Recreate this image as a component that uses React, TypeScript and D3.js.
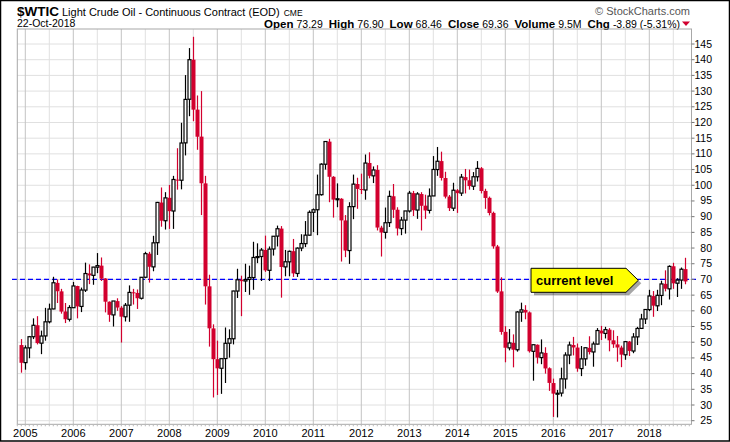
// @ts-nocheck
import React from "react";
import * as d3 from "d3";

// monthly candles, Dec 2004 .. Oct 2018
const firstYear = 2005;
const opens = [
  49.1,
  43.5, 48.2, 51.75, 55.4, 49.7, 52.0, 56.5, 60.6, 68.9, 66.2, 59.8, 57.3,
  61.0, 67.9, 61.4, 66.6, 71.9, 71.3, 73.9, 74.4, 70.3, 62.9, 58.7, 63.1,
  61.0, 58.1, 61.8, 65.9, 65.7, 64.0, 70.7, 78.2, 74.0, 81.7, 94.5, 88.7,
  96.0, 91.8, 101.8, 101.6, 113.5, 127.4, 140.0, 124.1, 115.5, 100.6, 67.8, 54.4,
  44.6, 41.7, 44.8, 49.7, 51.1, 66.3, 69.9, 69.5, 70.0, 70.6, 77.0, 77.3,
  79.4, 72.9, 79.7, 83.8, 86.2, 74.0, 75.6, 79.0, 71.9, 80.0, 81.4, 84.1,
  91.4, 92.2, 97.0, 106.7, 113.9, 102.7, 95.4, 95.7, 88.8, 79.2, 93.2, 100.4,
  98.8, 98.5, 107.1, 103.0, 104.9, 86.5, 85.0, 88.1, 96.5, 92.2, 86.2, 88.9,
  91.8, 97.5, 92.1, 97.2, 93.5, 92.0, 96.6, 105.0, 107.7, 102.3, 96.4, 92.7,
  98.4, 97.5, 102.6, 101.6, 99.7, 102.7, 105.4, 98.2, 96.0, 91.2, 80.5, 66.2,
  53.3, 48.2, 49.8, 47.6, 59.6, 60.3, 59.5, 47.1, 49.2, 45.1, 46.6, 41.7,
  37.0, 33.6, 33.8, 38.3, 45.9, 49.1, 48.3, 41.6, 44.7, 48.2, 46.9, 49.4,
  53.7, 52.8, 54.0, 50.6, 49.3, 48.3, 46.0, 50.2, 47.2, 51.7, 54.4, 57.4,
  60.4, 64.7, 61.6, 64.9, 68.6, 67.0, 74.2, 68.8, 69.8, 73.29,
];
const highs = [
  51.0,
  49.0, 52.0, 57.6, 58.3, 53.7, 60.95, 62.3, 70.85, 70.0, 67.0, 62.5, 61.8,
  69.2, 68.0, 67.4, 75.35, 74.8, 74.0, 78.4, 77.0, 70.4, 63.0, 62.5, 64.0,
  61.5, 62.5, 68.1, 67.0, 66.8, 70.7, 78.8, 78.8, 83.9, 94.7, 99.3, 97.8,
  100.1, 103.0, 111.8, 119.9, 135.1, 143.7, 147.3, 128.6, 130.0, 103.0, 71.5, 55.7,
  50.5, 43.2, 54.7, 54.1, 66.4, 73.4, 71.2, 75.0, 74.4, 82.0, 81.5, 80.0,
  83.95, 80.5, 83.8, 87.15, 87.0, 79.4, 79.2, 82.9, 80.2, 84.4, 88.6, 92.0,
  92.6, 103.4, 107.0, 114.0, 114.8, 102.9, 100.6, 95.9, 90.5, 94.6, 103.4, 102.4,
  103.7, 109.8, 110.5, 106.0, 106.4, 87.1, 92.9, 98.3, 100.4, 93.0, 89.9, 91.5,
  98.2, 98.2, 97.8, 97.8, 97.0, 99.0, 109.3, 112.2, 110.7, 104.3, 96.9, 100.8,
  98.8, 103.6, 105.2, 105.0, 104.2, 107.7, 105.8, 98.9, 96.4, 91.6, 81.0, 70.7,
  55.1, 54.2, 52.5, 59.9, 62.6, 61.8, 59.8, 49.3, 49.3, 50.9, 48.4, 42.0,
  38.4, 34.8, 41.9, 46.8, 50.2, 51.7, 49.6, 48.8, 48.3, 51.9, 50.2, 54.5,
  55.2, 54.9, 54.5, 53.8, 52.0, 48.9, 50.4, 50.4, 52.9, 54.9, 59.05, 60.5,
  66.7, 66.3, 66.7, 69.6, 72.9, 74.5, 75.3, 70.4, 73.8, 76.9,
];
const lows = [
  40.3,
  41.25, 44.9, 51.0, 49.3, 46.2, 50.5, 56.0, 60.5, 62.5, 59.1, 56.1, 56.6,
  61.0, 57.6, 59.6, 66.0, 68.5, 68.3, 72.0, 69.5, 59.5, 56.5, 55.0, 60.0,
  49.9, 56.6, 56.5, 62.0, 60.6, 63.6, 70.4, 69.0, 72.6, 77.8, 86.8, 85.9,
  86.1, 86.1, 98.6, 98.7, 109.5, 122.0, 120.4, 111.3, 90.5, 62.0, 48.6, 32.4,
  33.2, 33.55, 37.0, 45.1, 49.3, 64.1, 58.3, 66.0, 65.1, 66.7, 75.2, 69.5,
  72.4, 69.5, 77.6, 80.5, 64.2, 71.0, 71.0, 70.8, 70.8, 79.0, 80.3, 84.0,
  85.1, 84.1, 96.7, 105.0, 94.6, 89.7, 93.0, 75.7, 77.1, 74.95, 89.2, 92.5,
  97.2, 95.4, 102.2, 100.7, 85.6, 77.3, 83.0, 86.7, 89.6, 84.0, 84.1, 84.6,
  91.3, 90.2, 89.3, 85.6, 89.3, 91.0, 96.6, 103.0, 101.5, 95.8, 91.8, 91.8,
  91.2, 96.6, 97.4, 98.6, 98.5, 101.2, 97.4, 92.5, 90.4, 79.8, 65.7, 52.4,
  43.6, 47.4, 42.0, 47.0, 56.5, 57.3, 46.7, 37.75, 43.2, 43.0, 40.0, 34.5,
  26.2, 26.05, 32.7, 35.2, 43.0, 45.8, 40.6, 39.2, 42.5, 46.1, 42.2, 49.3,
  50.7, 51.2, 47.1, 48.2, 43.8, 42.05, 44.4, 45.6, 46.5, 49.1, 54.2, 55.8,
  59.9, 58.1, 59.95, 61.8, 66.2, 63.6, 67.0, 64.4, 67.0, 68.46,
];
const closes = [
  43.45,
  48.2, 51.75, 55.4, 49.72, 51.97, 56.5, 60.57, 68.94, 66.24, 59.76, 57.32, 61.04,
  67.92, 61.41, 66.63, 71.88, 71.29, 73.93, 74.4, 70.26, 62.91, 58.73, 63.13, 61.05,
  58.14, 61.79, 65.87, 65.71, 64.01, 70.68, 78.21, 74.04, 81.66, 94.53, 88.71, 95.98,
  91.75, 101.84, 101.58, 113.46, 127.35, 140.0, 124.08, 115.46, 100.64, 67.81, 54.43, 44.6,
  41.68, 44.76, 49.66, 51.12, 66.31, 69.89, 69.45, 69.96, 70.61, 77.0, 77.28, 79.36,
  72.89, 79.66, 83.76, 86.15, 73.97, 75.63, 78.95, 71.92, 79.97, 81.43, 84.11, 91.38,
  92.19, 96.97, 106.72, 113.93, 102.7, 95.42, 95.7, 88.81, 79.2, 93.19, 100.36, 98.83,
  98.48, 107.07, 103.02, 104.87, 86.53, 84.96, 88.06, 96.47, 92.19, 86.24, 88.91, 91.82,
  97.49, 92.05, 97.23, 93.46, 91.97, 96.56, 105.03, 107.65, 102.33, 96.38, 92.72, 98.42,
  97.49, 102.59, 101.58, 99.74, 102.71, 105.37, 98.17, 95.96, 91.16, 80.54, 66.15, 53.27,
  48.24, 49.76, 47.6, 59.63, 60.3, 59.47, 47.12, 49.2, 45.09, 46.59, 41.65, 37.04,
  33.62, 33.75, 38.34, 45.92, 49.1, 48.33, 41.6, 44.7, 48.24, 46.86, 49.44, 53.72,
  52.81, 54.01, 50.6, 49.33, 48.32, 46.04, 50.17, 47.23, 51.67, 54.38, 57.4, 60.42,
  64.73, 61.64, 64.94, 68.57, 67.04, 74.15, 68.76, 69.8, 73.25, 69.36,
];
const years = d3.range(2005, 2019);
const priceTicks = d3.range(25, 150, 5);
const currentLevel = 70;

const header = [
  ["Open", "73.29"],
  ["High", "76.90"],
  ["Low", "68.46"],
  ["Close", "69.36"],
  ["Volume", "9.5M"],
  ["Chg", "-3.89 (-5.31%)"],
];

const RED = "#d2002e";
const FONT = "'Liberation Sans', Arial, sans-serif";

export default function App() {
  const W = 730;
  const H = 442;
  const plot = { left: 17.3, right: 691.5, top: 29, bottom: 424.3 };

  const x = d3.scaleLinear().domain([0, 166]).range([21.3, 685.3]);
  const y = d3.scaleLinear().domain([25, 145]).range([420.7, 44]);
  const monthIndex = (yr, m) => 1 + (yr - firstYear) * 12 + m;

  const candles = opens.map((o, i) => ({ i, o, h: highs[i], l: lows[i], c: closes[i] }));

  const bw = 4;

  return (
    <div>
      <style>{"body{margin:0;background:#fff}"}</style>
      <svg width={W} height={H} style={{ display: "block", fontFamily: FONT }}>
        <rect x={0} y={0} width={W} height={H} fill="#fff" />

        {/* header */}
        <text x={17} y={15.5} fill="#000">
          <tspan fontSize={13.5} fontWeight="bold">$WTIC</tspan>
          <tspan fontSize={11} dx={3}>Light Crude Oil - Continuous Contract (EOD)</tspan>
          <tspan fontSize={8.5} dx={4}>CME</tspan>
        </text>
        <text x={17} y={27} fontSize={10.5} fill="#000">22-Oct-2018</text>
        <text x={690} y={15} fontSize={11} fill="#555" textAnchor="end">© StockCharts.com</text>
        <text x={680} y={27.5} textAnchor="end" fill="#000">
          {header.map(([k, v], i) => (
            <React.Fragment key={k}>
              <tspan fontSize={11.5} fontWeight="bold" dx={i ? 6 : 0}>{k}</tspan>
              <tspan fontSize={10.5} dx={3}>{v}</tspan>
            </React.Fragment>
          ))}
        </text>
        <path d="M682,21.5 L690,21.5 L686,26 Z" fill={RED} />

        {/* horizontal grid */}
        {priceTicks.map((t) => (
          <line key={t} x1={plot.left} x2={plot.right} y1={y(t)} y2={y(t)} stroke="#e0e0e0" strokeWidth={1} />
        ))}
        {/* vertical grid */}
        {years.map((yr) => (
          <g key={yr}>
            <line x1={x(monthIndex(yr, 0))} x2={x(monthIndex(yr, 0))} y1={plot.top} y2={plot.bottom} stroke="#c4c4c4" />
            <line x1={x(monthIndex(yr, 6))} x2={x(monthIndex(yr, 6))} y1={plot.top} y2={plot.bottom} stroke="#e0e0e0" />
          </g>
        ))}

        {/* current level */}
        <line x1={12} x2={696} y1={y(currentLevel)} y2={y(currentLevel)} stroke="#0000ff" strokeWidth={1.2} strokeDasharray="5,3" />

        {/* candles */}
        {candles.map((d) => {
          const down = d.c < d.o;
          const col = down ? RED : "#000";
          const cx = Math.round(x(d.i)) + 0.5;
          const top = y(Math.max(d.o, d.c));
          const bot = y(Math.min(d.o, d.c));
          return (
            <g key={d.i}>
              <line x1={cx} x2={cx} y1={y(d.h)} y2={y(d.l)} stroke={col} strokeWidth={1.2} />
              {down ? (
                <rect x={cx - bw / 2} y={top} width={bw} height={Math.max(1, bot - top)} fill={RED} />
              ) : (
                <rect x={cx - bw / 2 + 0.5} y={top} width={bw - 1} height={Math.max(1, bot - top)} fill="#fff" stroke="#000" strokeWidth={1.2} />
              )}
            </g>
          );
        })}

        {/* plot frame */}
        <rect x={plot.left} y={plot.top} width={plot.right - plot.left} height={plot.bottom - plot.top} fill="none" stroke="#a8a8a8" />

        {/* y axis */}
        {priceTicks.map((t) => (
          <g key={t}>
            <line x1={plot.right} x2={plot.right + 3} y1={y(t)} y2={y(t)} stroke="#777" />
            <text x={712} y={y(t) + 3.5} fontSize={10.5} textAnchor="end" fill="#000">{t}</text>
          </g>
        ))}

        {/* x axis */}
        {d3.range(-1, 168).map((i) => (
          <line key={i} x1={x(i)} x2={x(i)} y1={plot.bottom} y2={plot.bottom + 2} stroke="#bbb" />
        ))}
        {years.map((yr) => (
          <text key={yr} x={x(monthIndex(yr, 0))} y={437} fontSize={11} textAnchor="middle" fill="#000">{yr}</text>
        ))}

        {/* annotation */}
        <g>
          <path d="M534,271.3 L629,271.3 L641.3,283.3 L629,295.3 L534,295.3 Z" fill="#000" opacity={0.35} />
          <path d="M531,268.3 L626,268.3 L638.3,280.3 L626,292.3 L531,292.3 Z" fill="#ffff00" stroke="#000" strokeWidth={1} />
          <text x={536} y={284.5} fontSize={13} fontWeight="bold" fill="#000">current level</text>
        </g>

        {/* outer border */}
        <rect x={0.5} y={0.5} width={W - 1} height={H - 1.5} fill="none" stroke="#000" strokeWidth={1.5} />
      </svg>
    </div>
  );
}
